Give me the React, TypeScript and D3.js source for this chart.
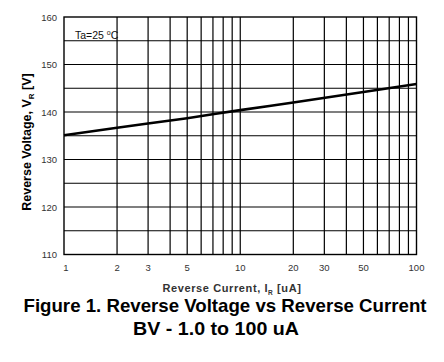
import { useEffect, useRef } from "react";
import * as d3 from "d3";

// reverse current [uA] vs reverse voltage [V]
const currents = [1, 2, 5, 10, 20, 50, 100];
const voltages = [135.1, 136.7, 138.7, 140.4, 142.0, 144.2, 145.9];

const xTickLabels = [1, 2, 3, 5, 10, 20, 30, 50, 100];
const xGrid = [2, 3, 4, 5, 6, 7, 8, 9, 10, 20, 30, 40, 50, 60, 70, 80, 90];
const yTickLabels = [110, 120, 130, 140, 150, 160];
const yGrid = [115, 120, 125, 130, 135, 140, 145, 150, 155];

const margin = { top: 17, right: 27.5, bottom: 107.5, left: 64 };
const width = 444;
const height = 362;
const font = "Arial, 'Liberation Sans', sans-serif";

export default function App() {
  const ref = useRef<SVGSVGElement>(null);

  useEffect(() => {
    const svg = d3.select(ref.current);
    svg.selectAll("*").remove();

    const innerW = width - margin.left - margin.right;
    const innerH = height - margin.top - margin.bottom;

    const x = d3.scaleLog().domain([1, 100]).range([0, innerW]);
    const y = d3.scaleLinear().domain([110, 160]).range([innerH, 0]);

    const g = svg
      .append("g")
      .attr("transform", `translate(${margin.left},${margin.top})`);

    // grid
    g.selectAll(".vgrid")
      .data(xGrid)
      .join("line")
      .attr("x1", (d) => x(d))
      .attr("x2", (d) => x(d))
      .attr("y1", 0)
      .attr("y2", innerH)
      .attr("stroke", "#000")
      .attr("stroke-width", 1.2);

    g.selectAll(".hgrid")
      .data(yGrid)
      .join("line")
      .attr("x1", 0)
      .attr("x2", innerW)
      .attr("y1", (d) => y(d))
      .attr("y2", (d) => y(d))
      .attr("stroke", "#000")
      .attr("stroke-width", 1.2);

    g.append("rect")
      .attr("width", innerW)
      .attr("height", innerH)
      .attr("fill", "none")
      .attr("stroke", "#000")
      .attr("stroke-width", 1.4);

    // tick labels
    g.selectAll(".xlab")
      .data(xTickLabels)
      .join("text")
      .attr("x", (d) => x(d) + (d === 1 ? 2 : 0))
      .attr("y", innerH + 16)
      .attr("text-anchor", "middle")
      .attr("font-family", font)
      .attr("font-size", 9.5)
      .attr("fill", "#333")
      .text((d) => d);

    g.selectAll(".ylab")
      .data(yTickLabels)
      .join("text")
      .attr("x", -7)
      .attr("y", (d) => y(d) + 3.5)
      .attr("text-anchor", "end")
      .attr("font-family", font)
      .attr("font-size", 9.5)
      .attr("fill", "#333")
      .text((d) => d);

    // curve
    const line = d3
      .line<number>()
      .x((_, i) => x(currents[i]))
      .y((d) => y(d))
      .curve(d3.curveMonotoneX);

    g.append("path")
      .datum(voltages)
      .attr("d", line)
      .attr("fill", "none")
      .attr("stroke", "#000")
      .attr("stroke-width", 2.6);

    // annotation
    const ta = g
      .append("text")
      .attr("x", 11)
      .attr("y", 21.5)
      .attr("font-family", font)
      .attr("font-size", 10.5)
      .attr("fill", "#111");
    ta.append("tspan").text("Ta=25 ");
    ta.append("tspan").attr("font-size", 7).attr("dy", -3.5).text("o");
    ta.append("tspan").attr("dy", 3.5).text("C");

    // axis titles
    const xt = svg
      .append("text")
      .attr("x", 232)
      .attr("y", 292)
      .attr("text-anchor", "middle")
      .attr("font-family", font)
      .attr("font-weight", "bold")
      .attr("font-size", 11)
      .attr("letter-spacing", 0.6)
      .attr("fill", "#333");
    xt.append("tspan").text("Reverse Current, I");
    xt.append("tspan").attr("font-size", 6.5).attr("dy", 2.5).text("R");
    xt.append("tspan").attr("dy", -2.5).text(" [uA]");

    const yt = svg
      .append("text")
      .attr("transform", "translate(31,142) rotate(-90)")
      .attr("text-anchor", "middle")
      .attr("font-family", font)
      .attr("font-weight", "bold")
      .attr("font-size", 12.5)
      .attr("fill", "#000");
    yt.append("tspan").text("Reverse Voltage, V");
    yt.append("tspan").attr("font-size", 8).attr("dy", 3).text("R");
    yt.append("tspan").attr("dy", -3).text(" [V]");

    // caption
    svg
      .append("text")
      .attr("x", 225)
      .attr("y", 311.5)
      .attr("text-anchor", "middle")
      .attr("font-family", font)
      .attr("font-weight", "bold")
      .attr("font-size", 19)
      .attr("textLength", 403)
      .attr("lengthAdjust", "spacingAndGlyphs")
      .attr("fill", "#000")
      .text("Figure 1. Reverse Voltage vs Reverse Current");

    svg
      .append("text")
      .attr("x", 216)
      .attr("y", 335)
      .attr("text-anchor", "middle")
      .attr("font-family", font)
      .attr("font-weight", "bold")
      .attr("font-size", 19)
      .attr("textLength", 166)
      .attr("lengthAdjust", "spacingAndGlyphs")
      .attr("fill", "#000")
      .text("BV - 1.0 to 100 uA");
  }, []);

  return (
    <svg
      ref={ref}
      width={width}
      height={height}
      style={{ position: "absolute", left: 0, top: 0, background: "#fff" }}
    />
  );
}
